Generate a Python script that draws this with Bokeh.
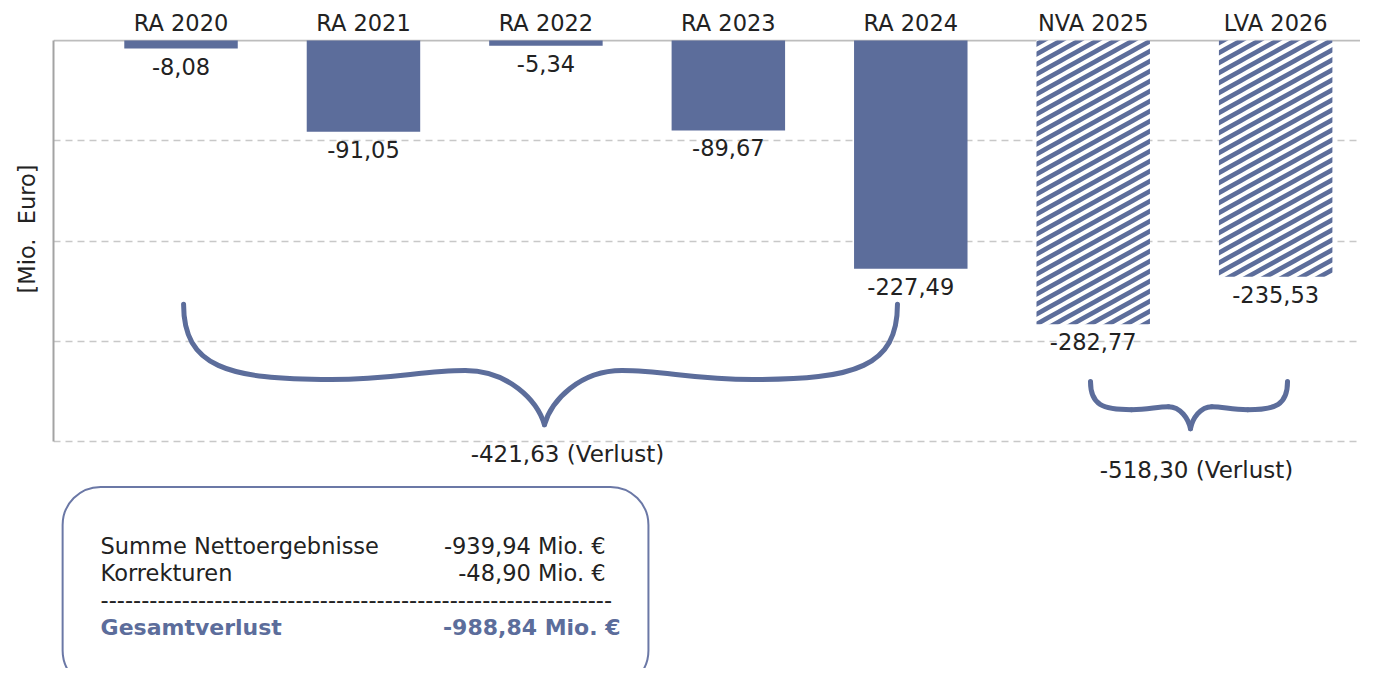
import base64
from bokeh.plotting import figure
from bokeh.models import Range1d, FixedTicker, Span, BoxAnnotation, Title, ImageURLTexture
from bokeh.core.properties import value
from bokeh.embed import file_html
from bokeh.resources import INLINE

# ---------------- data ----------------
categories = ["RA 2020", "RA 2021", "RA 2022", "RA 2023", "RA 2024", "NVA 2025", "LVA 2026"]
values = [-8.08, -91.05, -5.34, -89.67, -227.49, -282.77, -235.53]
value_labels = ["-8,08", "-91,05", "-5,34", "-89,67", "-227,49", "-282,77", "-235,53"]
is_plan = [False, False, False, False, False, True, True]
group_labels = ["-421,63 (Verlust)", "-518,30 (Verlust)"]
summary_names = ["Summe Nettoergebnisse", "Korrekturen"]
summary_values = ["-939,94 Mio. €", "-48,90 Mio. €"]
total_name = "Gesamtverlust"
total_value = "-988,84 Mio. €"
grid_values = [-100, -200, -300, -400]
y_label = "[Mio.\u00a0 Euro]"

# ---------------- style ----------------
BAR = "#5c6d9b"
TXT = "#222222"
FONT = "DejaVu Sans"
FS = "22.5px"

p = figure(width=1360, height=668, output_backend="svg", toolbar_location=None,
           x_range=Range1d(-0.699, 6.465), y_range=Range1d(-626, 1),
           x_axis_location="above",
           min_border_left=53, min_border_top=39, min_border_right=0, min_border_bottom=0)
p.outline_line_color = None
p.background_fill_color = "white"
p.border_fill_color = "white"

# x axis (category labels on top)
xs = list(range(len(categories)))
p.xaxis.ticker = FixedTicker(ticks=xs)
p.xaxis.major_label_overrides = {i: c for i, c in enumerate(categories)}
p.xaxis.axis_line_color = None
p.xaxis.major_tick_line_color = None
p.xaxis.minor_tick_line_color = None
p.xaxis.major_label_standoff = -2
p.xaxis.major_label_text_font = FONT
p.xaxis.major_label_text_font_size = FS
p.xaxis.major_label_text_color = TXT

# y axis: line only, label as a side title placed beside the axis line
p.yaxis.ticker = FixedTicker(ticks=[])
p.yaxis.bounds = (-400, 0)
p.yaxis.axis_line_color = "#a3a3a3"
p.yaxis.axis_line_width = 2
p.yaxis.major_tick_line_color = None
p.yaxis.minor_tick_line_color = None
p.add_layout(Title(text=y_label, align="right", offset=125, standoff=25,
                   vertical_align="middle",
                   text_font=FONT, text_font_size=FS, text_font_style="normal",
                   text_color=TXT), "left")

p.xgrid.visible = False
p.ygrid.ticker = FixedTicker(ticks=grid_values)
p.ygrid.grid_line_color = "#c8c8c8"
p.ygrid.grid_line_dash = "7 5"
p.ygrid.grid_line_width = 1.5

p.add_layout(Span(location=0, dimension="width", line_color="#bdbdbd",
                  line_width=2, level="underlay"))

# stripe texture for plan bars
svg = ("<svg xmlns='http://www.w3.org/2000/svg' width='18' height='10'>"
       "<rect width='18' height='10' fill='white'/>"
       "<path d='M-9,15 L27,-5 M-9,5 L27,-15 M-9,25 L27,5' stroke='%s' stroke-width='4.6' fill='none'/>"
       "</svg>" % BAR)
stripe_url = "data:image/svg+xml;base64," + base64.b64encode(svg.encode()).decode()

# bars
BW = 0.622
sx = [x for x, h in zip(xs, is_plan) if not h]
sv = [v for v, h in zip(values, is_plan) if not h]
hx = [x for x, h in zip(xs, is_plan) if h]
hv = [v for v, h in zip(values, is_plan) if h]
p.vbar(x=sx, top=0, bottom=sv, width=BW, fill_color=BAR, line_color=None)
p.vbar(x=hx, top=0, bottom=hv, width=BW, fill_color="white", line_color=None,
       hatch_pattern=value("stripe"), hatch_extra={"stripe": ImageURLTexture(url=stripe_url)})

# value labels
p.text(x=xs, y=values, text=value_labels, text_align="center", text_baseline="top",
       y_offset=9, text_font=value(FONT), text_font_size=FS, text_color=TXT)

# braces
def brace(xl, xr, xt, y_top, y_low, y_bump, y_tip):
    segs = []
    for xe in (xl, xr):
        L = xt - xe
        a_end = xe + 0.41 * L
        b_end = xe + 0.78 * L
        segs.append((xe, y_top, a_end, y_low, xe, y_low + 0.17 * (y_top - y_low), xe + 0.12 * L, y_low))
        segs.append((a_end, y_low, b_end, y_bump, xe + 0.58 * L, y_low, xe + 0.66 * L, y_bump))
        segs.append((b_end, y_bump, xt, y_tip, xe + 0.90 * L, y_bump, xt - 0.02 * L,
                     y_tip + 0.45 * (y_bump - y_tip)))
    return segs

segs = brace(0.014, 3.927, 1.992, -263, -338, -329, -383) + \
       brace(4.985, 6.065, 5.533, -340, -368, -365, -387)
cols = list(zip(*segs))
p.bezier(x0=list(cols[0]), y0=list(cols[1]), x1=list(cols[2]), y1=list(cols[3]),
         cx0=list(cols[4]), cy0=list(cols[5]), cx1=list(cols[6]), cy1=list(cols[7]),
         line_color=BAR, line_width=5, line_cap="round")

p.text(x=[2.118, 5.566], y=[-412, -428], text=group_labels, text_align="center",
       text_baseline="middle", text_font=value(FONT), text_font_size="23px", text_color=TXT)

# summary box
p.add_layout(BoxAnnotation(left=-0.649, right=2.562, top=-445, bottom=-646,
                           fill_alpha=0, line_color="#6b78a6", line_width=2,
                           line_alpha=1, border_radius=38))
p.text(x=[-0.441, -0.441], y=[-504, -531], text=summary_names, text_align="left",
       text_baseline="middle", text_font=value(FONT), text_font_size=FS, text_color=TXT)
p.text(x=[2.327, 2.327], y=[-504, -531], text=summary_values, text_align="right",
       text_baseline="middle", text_font=value(FONT), text_font_size=FS, text_color=TXT)
p.text(x=[-0.441], y=[-557], text=["-" * 63], text_align="left",
       text_baseline="middle", text_font=value(FONT), text_font_size=FS, text_color=TXT)
p.text(x=[-0.441], y=[-585], text=[total_name], text_align="left",
       text_baseline="middle", text_font=value(FONT), text_font_size="22px",
       text_font_style="bold", text_color=BAR)
p.text(x=[2.409], y=[-585], text=[total_value], text_align="right",
       text_baseline="middle", text_font=value(FONT), text_font_size="22px",
       text_font_style="bold", text_color=BAR)

open("out.html", "w").write(file_html(p, INLINE))
